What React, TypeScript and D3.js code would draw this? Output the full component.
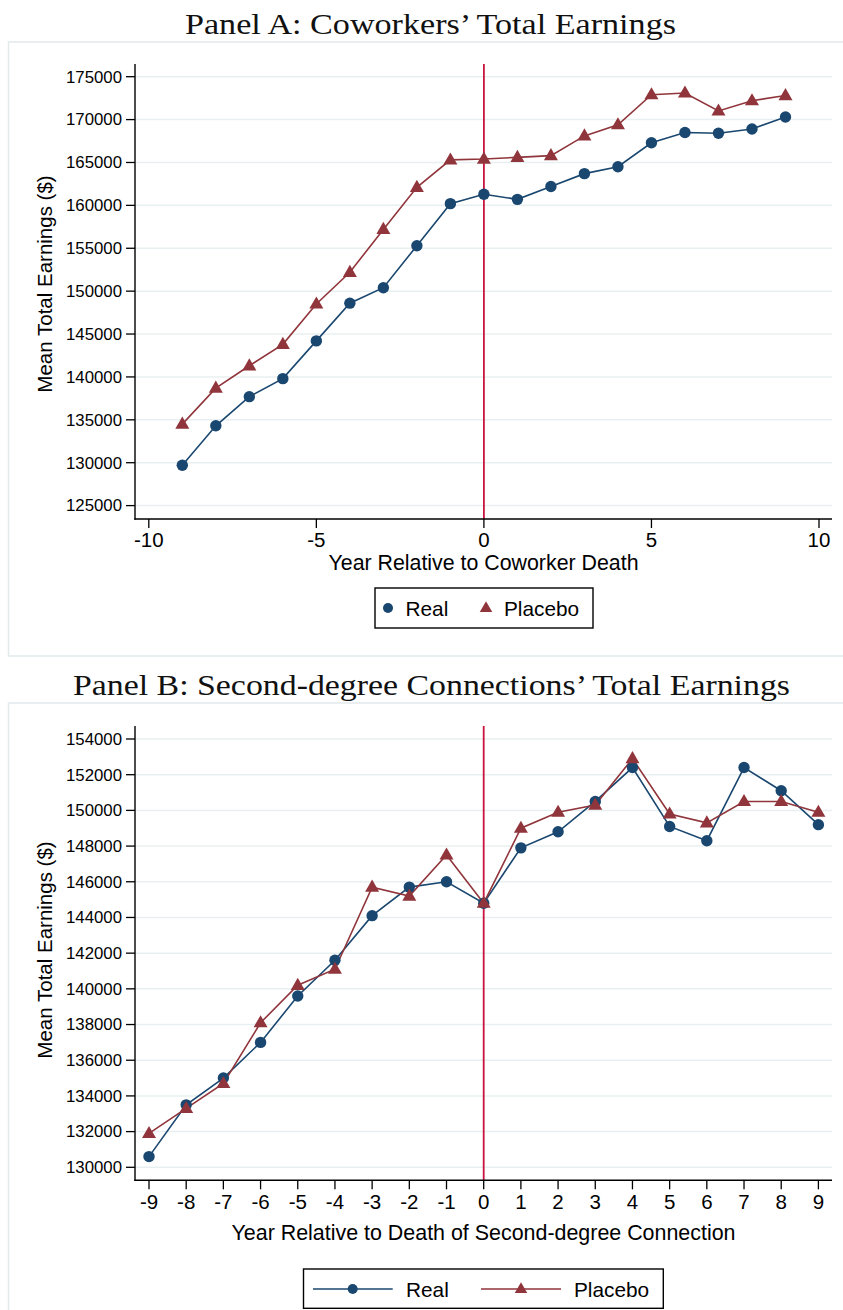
import React from "react";
import * as d3 from "d3";

// ---------- DATA ----------
const yearsA = [-9, -8, -7, -6, -5, -4, -3, -2, -1, 0, 1, 2, 3, 4, 5, 6, 7, 8, 9];
const realA = [129700, 134300, 137700, 139800, 144200, 148600, 150400, 155300, 160200, 161300, 160700, 162200, 163700, 164500, 167300, 168500, 168400, 168900, 170300];
const placeboA = [134500, 138700, 141300, 143800, 148500, 152200, 157200, 162100, 165300, 165400, 165600, 165800, 168100, 169400, 172900, 173100, 171000, 172200, 172800];
const yTicksA = [125000, 130000, 135000, 140000, 145000, 150000, 155000, 160000, 165000, 170000, 175000];
const xTicksA = [-10, -5, 0, 5, 10];

const yearsB = [-9, -8, -7, -6, -5, -4, -3, -2, -1, 0, 1, 2, 3, 4, 5, 6, 7, 8, 9];
const realB = [130600, 133500, 135000, 137000, 139600, 141600, 144100, 145700, 146000, 144800, 147900, 148800, 150500, 152400, 149100, 148300, 152400, 151100, 149200];
const placeboB = [131900, 133300, 134700, 138100, 140200, 141100, 145700, 145200, 147500, 144800, 149000, 149900, 150300, 152900, 149800, 149300, 150500, 150500, 149900];
const yTicksB = [130000, 132000, 134000, 136000, 138000, 140000, 142000, 144000, 146000, 148000, 150000, 152000, 154000];
const xTicksB = [-9, -8, -7, -6, -5, -4, -3, -2, -1, 0, 1, 2, 3, 4, 5, 6, 7, 8, 9];

const seriesNames = ["Real", "Placebo"];

// ---------- STYLE ----------
const NAVY = "#1a476f";
const MAROON = "#90353b";
const VLINE = "#c8143f";
const GRID = "#e8eff1";
const FRAME = "#e2eaec";
const SANS = "Liberation Sans, Arial, sans-serif";
const SERIF = "Liberation Serif, Times New Roman, serif";

function tri(cx: number, cy: number, s: number) {
  const h = s * 0.866;
  return `M${cx},${cy - h * 0.62} L${cx + s / 2},${cy + h * 0.38} L${cx - s / 2},${cy + h * 0.38} Z`;
}

type PanelProps = {
  title: string;
  titleY: number;
  titleX: number;
  titleW: number;
  frameTop: number;
  frameBottom: number;
  left: number;
  right: number;
  top: number;
  bottom: number;
  xDom: [number, number];
  xRng: [number, number];
  yDom: [number, number];
  yRng: [number, number];
  xTicks: number[];
  yTicks: number[];
  years: number[];
  real: number[];
  placebo: number[];
  yTitleY: number;
  xTickBase: number;
  xTitle: string;
  xTitleBase: number;
  xTitleW: number;
  legend: { x0: number; x1: number; y0: number; y1: number; cy: number; base: number; withLines: boolean; items: { mx: number; lx0?: number; lx1?: number; tx: number }[] };
};

function Panel(p: PanelProps) {
  const x = d3.scaleLinear().domain(p.xDom).range(p.xRng);
  const y = d3.scaleLinear().domain(p.yDom).range(p.yRng);
  const line = d3
    .line<number>()
    .x((_, i) => x(p.years[i]))
    .y((d) => y(d));
  const colors = [NAVY, MAROON];
  return (
    <g>
      <rect x={8.5} y={p.frameTop} width={850} height={p.frameBottom - p.frameTop} fill="#fff" stroke={FRAME} strokeWidth={1.5} />
      <text x={p.titleX} y={p.titleY} textAnchor="middle" fontFamily={SERIF} fontSize={30} textLength={p.titleW} lengthAdjust="spacingAndGlyphs" fill="#111">
        {p.title}
      </text>
      {p.yTicks.map((t) => (
        <line key={"g" + t} x1={p.left} x2={p.right} y1={y(t)} y2={y(t)} stroke={GRID} strokeWidth={1.5} />
      ))}
      <line x1={x(0)} x2={x(0)} y1={p.top} y2={p.bottom} stroke={VLINE} strokeWidth={1.8} />
      <line x1={p.left} x2={p.left} y1={p.top} y2={p.bottom + 0.7} stroke="#000" strokeWidth={1.4} />
      <line x1={p.left - 0.7} x2={p.right} y1={p.bottom} y2={p.bottom} stroke="#000" strokeWidth={1.4} />
      {p.yTicks.map((t) => (
        <g key={"y" + t}>
          <line x1={p.left - 9} x2={p.left} y1={y(t)} y2={y(t)} stroke="#000" strokeWidth={1.3} />
          <text x={p.left - 13} y={y(t)} dy="0.35em" textAnchor="end" fontFamily={SANS} fontSize={16.8} fill="#000">
            {t}
          </text>
        </g>
      ))}
      {p.xTicks.map((t) => (
        <g key={"x" + t}>
          <line x1={x(t)} x2={x(t)} y1={p.bottom} y2={p.bottom + 9} stroke="#000" strokeWidth={1.3} />
          <text x={x(t)} y={p.xTickBase} textAnchor="middle" fontFamily={SANS} fontSize={20.5} fill="#000">
            {t}
          </text>
        </g>
      ))}
      <text
        transform={`translate(51.5,${p.yTitleY}) rotate(-90)`}
        textAnchor="middle"
        fontFamily={SANS}
        fontSize={20.5}
        fill="#000"
      >
        Mean Total Earnings ($)
      </text>
      <text x={(p.left + p.right) / 2} y={p.xTitleBase} textAnchor="middle" fontFamily={SANS} fontSize={21.3} textLength={p.xTitleW} lengthAdjust="spacingAndGlyphs" fill="#000">
        {p.xTitle}
      </text>
      <path d={line(p.real) || ""} fill="none" stroke={NAVY} strokeWidth={1.6} />
      <path d={line(p.placebo) || ""} fill="none" stroke={MAROON} strokeWidth={1.6} />
      {p.real.map((v, i) => (
        <circle key={"r" + i} cx={x(p.years[i])} cy={y(v)} r={5.7} fill={NAVY} />
      ))}
      {p.placebo.map((v, i) => (
        <path key={"p" + i} d={tri(x(p.years[i]), y(v), 14)} fill={MAROON} />
      ))}
      <rect x={p.legend.x0} y={p.legend.y0} width={p.legend.x1 - p.legend.x0} height={p.legend.y1 - p.legend.y0} fill="#fff" stroke="#000" strokeWidth={1.4} />
      {p.legend.items.map((it, i) => (
        <g key={"l" + i}>
          {p.legend.withLines && it.lx0 !== undefined && (
            <line x1={it.lx0} x2={it.lx1} y1={p.legend.cy} y2={p.legend.cy} stroke={colors[i]} strokeWidth={1.6} />
          )}
          {i === 0 ? (
            <circle cx={it.mx} cy={p.legend.cy} r={5} fill={NAVY} />
          ) : (
            <path d={tri(it.mx, p.legend.cy, 12.5)} fill={MAROON} />
          )}
          <text x={it.tx} y={p.legend.base} fontFamily={SANS} fontSize={20.8} fill="#000">
            {seriesNames[i]}
          </text>
        </g>
      ))}
    </g>
  );
}

export default function App() {
  return (
    <svg width={843} height={1310} style={{ display: "block", position: "absolute", left: 0, top: 0 }}>
      <rect x={0} y={0} width={843} height={1310} fill="#fff" />
      <Panel
        title="Panel A: Coworkers’ Total Earnings"
        titleY={34}
        titleX={430.5}
        titleW={491}
        frameTop={42}
        frameBottom={656}
        left={135}
        right={832}
        top={64}
        bottom={519}
        xDom={[-10, 10]}
        xRng={[148.8, 819]}
        yDom={[125000, 175000]}
        yRng={[505.6, 76.7]}
        xTicks={xTicksA}
        yTicks={yTicksA}
        years={yearsA}
        real={realA}
        placebo={placeboA}
        yTitleY={284}
        xTickBase={547}
        xTitle="Year Relative to Coworker Death"
        xTitleBase={570}
        xTitleW={310}
        legend={{
          x0: 375,
          x1: 593,
          y0: 588,
          y1: 628,
          cy: 608,
          base: 616,
          withLines: false,
          items: [
            { mx: 388, tx: 405.5 },
            { mx: 486, tx: 504 },
          ],
        }}
      />
      <Panel
        title="Panel B: Second-degree Connections’ Total Earnings"
        titleY={695}
        titleX={431.5}
        titleW={717}
        frameTop={703}
        frameBottom={1330}
        left={135}
        right={832}
        top={726}
        bottom={1180.3}
        xDom={[-9, 9]}
        xRng={[149, 818.4]}
        yDom={[130000, 154000]}
        yRng={[1167.3, 739]}
        xTicks={xTicksB}
        yTicks={yTicksB}
        years={yearsB}
        real={realB}
        placebo={placeboB}
        yTitleY={950}
        xTickBase={1209}
        xTitle="Year Relative to Death of Second-degree Connection"
        xTitleBase={1239.5}
        xTitleW={504}
        legend={{
          x0: 303.5,
          x1: 663.3,
          y0: 1269,
          y1: 1308.3,
          cy: 1289,
          base: 1297.3,
          withLines: true,
          items: [
            { mx: 352.7, lx0: 313, lx1: 392.7, tx: 406 },
            { mx: 521, lx0: 481, lx1: 561, tx: 574 },
          ],
        }}
      />
    </svg>
  );
}
